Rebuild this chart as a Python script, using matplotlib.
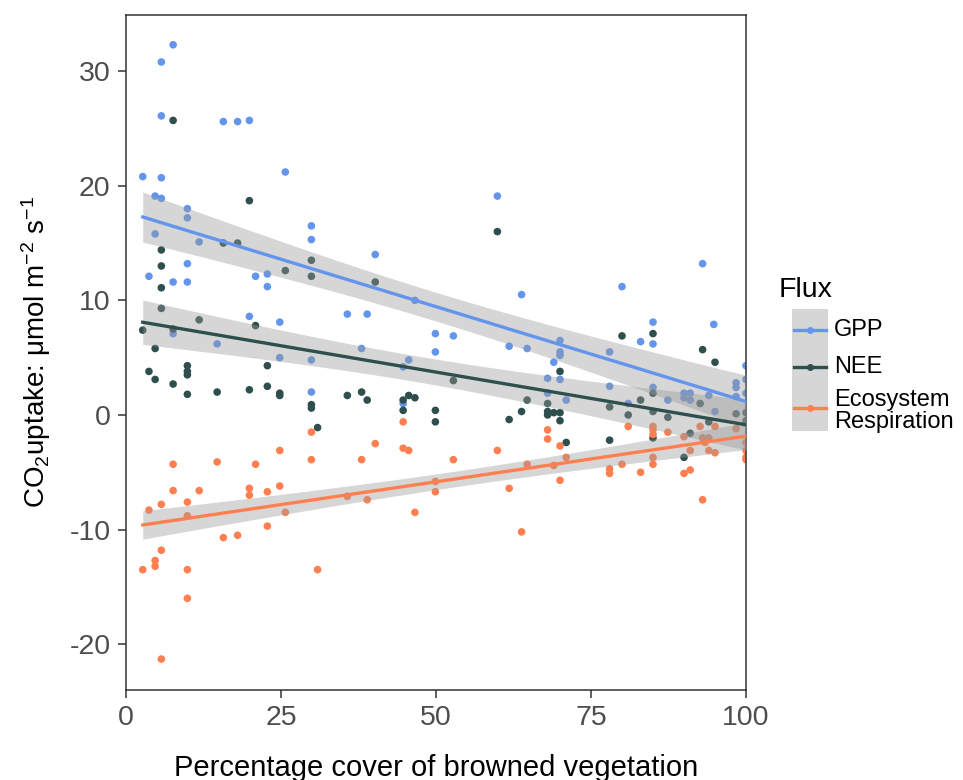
import numpy as np
import matplotlib
matplotlib.use("Agg")
import matplotlib.pyplot as plt
from matplotlib.patches import Rectangle
from matplotlib.lines import Line2D

plt.rcParams['font.family'] = ['Liberation Sans', 'DejaVu Sans']
plt.rcParams['mathtext.fontset'] = 'custom'
plt.rcParams['mathtext.rm'] = 'Liberation Sans'
plt.rcParams['mathtext.it'] = 'Liberation Sans'
plt.rcParams['axes.unicode_minus'] = False

# ---------------- data ----------------
gpp_x = [7.6, 5.7, 5.7, 15.7, 18, 19.9, 2.7, 5.7, 25.7, 4.7, 5.7, 9.9, 9.9, 29.9, 29.9, 4.7, 11.8,
         3.7, 7.6, 9.9, 9.9, 20.9, 22.8, 22.8, 19.9, 24.8, 7.6, 14.7, 24.8, 29.9, 29.9,
         59.9, 40.2, 63.8, 35.7, 38.9, 46.6, 38, 49.9, 52.8, 49.9, 61.8, 64.7, 45.6, 44.7, 44.7,
         93, 80, 85, 94.8, 83, 85, 70, 70, 70, 78, 69, 68, 70, 78, 85, 68, 87.4, 71, 81,
         90, 91, 90, 91, 94, 95, 98.4, 98.4, 98.4, 100, 100, 100]
gpp_y = [32.3, 30.8, 26.1, 25.6, 25.6, 25.7, 20.8, 20.7, 21.2, 19.1, 18.9, 18.0, 17.2, 16.5, 15.3, 15.8, 15.1,
         12.1, 11.6, 13.2, 11.6, 12.1, 12.3, 11.2, 8.6, 8.1, 7.1, 6.2, 5.0, 4.8, 2.0,
         19.1, 14.0, 10.5, 8.8, 8.8, 10.0, 5.8, 7.1, 6.9, 5.5, 6.0, 5.8, 4.8, 4.2, 1.0,
         13.2, 11.2, 8.1, 7.9, 6.4, 6.2, 6.5, 5.5, 5.2, 5.5, 4.6, 3.2, 3.1, 2.5, 2.4, 1.9, 1.3, 1.3, 1.0,
         1.9, 1.9, 1.5, 1.3, 1.7, 0.3, 2.8, 2.4, 1.6, 4.3, 3.1, 1.9]

nee_x = [7.6, 19.9, 15.7, 18,
         5.7, 5.7, 5.7, 5.7, 25.7, 29.9, 29.9, 11.8, 2.7, 7.6, 20.9, 4.7, 3.7, 4.7, 7.6,
         9.9, 9.9, 9.9, 9.9, 14.7, 19.9, 22.8, 22.8, 24.8, 24.8, 29.9, 29.9, 30.9,
         59.9, 40.2, 52.8,
         35.7, 38, 38.9, 44.7, 45.6, 46.6, 44.7, 49.9, 49.9, 64.7, 63.8, 61.8,
         80, 85, 93, 95, 70, 68, 68, 68, 69, 70, 70, 85, 83, 78, 81, 85, 87.4, 92.6, 94,
         98.4, 100, 91, 71, 78, 90, 85, 100]
nee_y = [25.7, 18.7, 15.0, 15.0,
         14.4, 13.0, 11.1, 9.3, 12.6, 13.5, 12.1, 8.3, 7.4, 7.5, 7.8, 5.8, 3.8, 3.1, 2.7,
         4.3, 3.8, 3.5, 1.8, 2.0, 2.2, 4.3, 2.5, 1.9, 1.7, 0.9, 0.6, -1.1,
         16.0, 11.6, 3.0,
         1.7, 2.0, 1.3, 1.3, 1.7, 1.5, 0.4, 0.4, -0.6, 1.3, 0.3, -0.4,
         6.9, 7.1, 5.7, 4.6, 3.8, 1.0, 0.3, 0.0, 0.2, 0.2, -0.5, 1.9, 1.3, 0.7, 0.0, 0.3, -0.2, 1.0, -0.6,
         0.1, 0.2, -1.6, -2.4, -2.2, -3.7, -2.0, -0.5]

er_x = [29.9, 7.6, 14.7, 20.9, 24.8, 29.9,
        7.6, 11.8, 19.9, 19.9, 22.8, 24.8, 25.7, 5.7, 3.7, 9.9, 9.9, 22.8, 15.7, 18,
        5.7, 4.7, 4.7, 2.7, 9.9, 30.9, 9.9, 5.7,
        44.7, 40.2, 44.7, 45.6, 38, 52.8, 59.9, 64.7, 35.7, 38.9, 49.9, 49.9, 61.8, 46.6, 63.8,
        68, 68, 81, 85, 85, 85, 87.4, 92.6, 95, 98.4, 90, 93, 94, 93.4, 94, 70, 91, 95,
        100, 100, 100, 85, 71, 69, 78, 78, 80, 83, 85, 90, 91, 70, 93, 100]
er_y = [-1.5, -4.3, -4.1, -4.3, -3.1, -3.9,
        -6.6, -6.6, -6.4, -7.0, -6.7, -6.2, -8.5, -7.8, -8.3, -7.6, -8.8, -9.7, -10.7, -10.5,
        -11.8, -12.7, -13.2, -13.5, -13.5, -13.5, -16.0, -21.3,
        -0.6, -2.5, -2.9, -3.1, -3.9, -3.9, -3.1, -4.3, -7.1, -7.4, -5.8, -6.7, -6.4, -8.5, -10.2,
        -1.3, -2.1, -1.0, -1.0, -1.3, -1.7, -1.5, -1.0, -1.0, -1.2, -1.9, -2.0, -2.0, -2.4, -3.1, -2.7, -3.1, -3.3,
        -2.4, -3.1, -3.7, -3.7, -3.7, -4.4, -4.7, -5.1, -4.3, -5.0, -4.3, -5.1, -4.8, -5.7, -7.4, -3.9]

series_names = ["GPP", "NEE", "Ecosystem\nRespiration"]
series_colors = ["#6495ED", "#2F4F4F", "#FF7F50"]
x_ticks = [0, 25, 50, 75, 100]
y_ticks = [-20, -10, 0, 10, 20, 30]

# ---------------- figure ----------------
W, H = 963, 780
fig = plt.figure(figsize=(W / 100, H / 100), dpi=100)
ax = fig.add_axes([126 / W, 1 - 690 / H, (746 - 126) / W, (690 - 15) / H])

series = [(gpp_x, gpp_y), (nee_x, nee_y), (er_x, er_y)]

# points
for (xs, ys), c in zip(series, series_colors):
    ax.scatter(xs, ys, s=30, color=c, edgecolors='none', zorder=2)


def lm_band(xs, ys, n=100):
    xs = np.asarray(xs, float)
    ys = np.asarray(ys, float)
    b, a = np.polyfit(xs, ys, 1)
    xg = np.linspace(xs.min(), xs.max(), n)
    yhat = a + b * xg
    resid = ys - (a + b * xs)
    N = len(xs)
    s = np.sqrt(np.sum(resid ** 2) / (N - 2))
    se = s * np.sqrt(1 / N + (xg - xs.mean()) ** 2 / np.sum((xs - xs.mean()) ** 2))
    t = 1.98
    return xg, yhat, yhat - t * se, yhat + t * se


for (xs, ys), c in zip(series, series_colors):
    xg, yh, lo, hi = lm_band(xs, ys)
    ax.fill_between(xg, lo, hi, color='#999999', alpha=0.4, linewidth=0, zorder=3)
    ax.plot(xg, yh, color=c, linewidth=2.4, zorder=4)

ax.set_xlim(0, 100)
ax.set_ylim(-24, 34.9)
ax.set_xticks(x_ticks)
ax.set_yticks(y_ticks)
ax.tick_params(axis='both', which='major', labelsize=20.5, labelcolor='#4D4D4D',
               color='#333333', length=6, width=1.1, direction='out', pad=5)
for sp in ax.spines.values():
    sp.set_color('#333333')
    sp.set_linewidth(1.1)

ax.set_xlabel('Percentage cover of browned vegetation', fontsize=21, color='black', labelpad=16)
ax.set_ylabel(r'CO$_2$uptake: μmol m$^{-2}$ s$^{-1}$', fontsize=20, color='black', labelpad=12)

# ---------------- legend (manual, ggplot style) ----------------
def fx(px):
    return px / W


def fy(py):
    return 1 - py / H


fig.text(fx(779), fy(290), 'Flux', fontsize=20.5, va='center', ha='left', color='black')
fig.patches.append(Rectangle((fx(792), fy(431)), fx(828) - fx(792), fy(309) - fy(431),
                             transform=fig.transFigure, facecolor='#D6D6D6', edgecolor='none'))
key_y = [330, 367, 408]
for name, c, ky in zip(series_names, series_colors, key_y):
    fig.lines.append(Line2D([fx(794), fx(826)], [fy(ky), fy(ky)], transform=fig.transFigure,
                            color=c, linewidth=2.4))
    fig.lines.append(Line2D([fx(810)], [fy(ky)], transform=fig.transFigure, color=c,
                            marker='o', markersize=5, markeredgewidth=0, linestyle='none'))
    fig.text(fx(834), fy(ky + (3 if '\n' in name else 0)), name, fontsize=17, va='center', ha='left',
             color='black', linespacing=1.0)

fig.savefig('out.png', dpi=100)
